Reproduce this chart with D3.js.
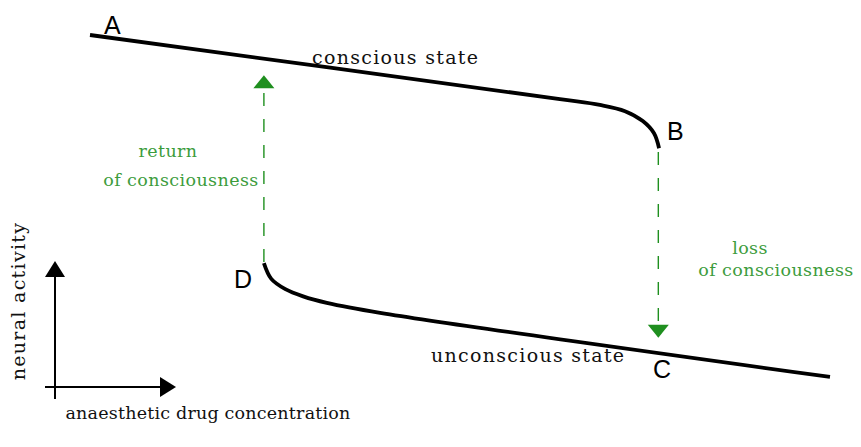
<!DOCTYPE html>
<html><head><meta charset="utf-8">
<script src="https://cdn.jsdelivr.net/npm/d3@7"></script>
<style>body{margin:0;background:#fff}svg{display:block}</style>
</head><body>
<svg id="c" width="861" height="447"></svg>
<script>
// Data (x: drug concentration 0-100, y: neural activity 0-100)
const consciousX = [0, 63.5, 68.9, 72.3, 74.7, 76.2, 76.9];
const consciousY = [100, 81.3, 79.6, 77.8, 74.9, 71.4, 67.0];
const unconsciousX = [23.5, 24.5, 26.4, 28.8, 32.0, 39.2, 100];
const unconsciousY = [33.5, 28.9, 25.9, 23.8, 21.9, 19.0, 0.3];
const returnArrow = {x: 23.5, from: 33.8, to: 88.3};
const lossArrow = {x: 76.8, from: 65.9, to: 11.7};
const pointLabels = ["A", "B", "C", "D"];
const stateLabels = ["conscious state", "unconscious state"];
const transitionLabels = [["return", "of consciousness"], ["loss", "of consciousness"]];
const axisLabels = ["anaesthetic drug concentration", "neural activity"];

const svg = d3.select("#c");
const x = d3.scaleLinear().domain([0, 100]).range([90, 830]);
const y = d3.scaleLinear().domain([0, 100]).range([378, 35]);
const serif = "'DejaVu Serif', serif";
const sans = "'Liberation Sans', Arial, sans-serif";
const green = "#1f8f1f", greenText = "#3c9c3c";

const line = d3.line().x(d => x(d[0])).y(d => y(d[1])).curve(d3.curveCatmullRom.alpha(0.5));
[d3.zip(consciousX, consciousY), d3.zip(unconsciousX, unconsciousY)].forEach(pts =>
  svg.append("path").datum(pts).attr("d", line)
    .attr("fill", "none").attr("stroke", "#000").attr("stroke-width", 3.8));

function dashedArrow(a, up) {
  const px = x(a.x), y0 = y(a.from), y1 = y(a.to);
  const headH = 13, headW = 10.5;
  const base = up ? y1 + headH : y1 - headH;
  svg.append("line").attr("x1", px).attr("x2", px).attr("y1", y0).attr("y2", base)
    .attr("stroke", green).attr("stroke-width", 1.4).attr("stroke-dasharray", "13,13");
  svg.append("path").attr("d", `M${px - headW},${base}L${px + headW},${base}L${px},${y1}Z`).attr("fill", green);
}
dashedArrow(returnArrow, true);
dashedArrow(lossArrow, false);

// point labels
const lp = [[104, 34], [667, 140], [653, 378], [234, 288]];
pointLabels.forEach((t, i) => svg.append("text").attr("x", lp[i][0]).attr("y", lp[i][1]).text(t)
  .attr("font-family", sans).attr("font-size", 25).attr("fill", "#000"));

// state labels
const sl = [[312, 64], [431, 362]];
stateLabels.forEach((t, i) => svg.append("text").attr("x", sl[i][0]).attr("y", sl[i][1]).text(t)
  .attr("font-family", serif).attr("font-size", 19).attr("letter-spacing", 1.3).attr("fill", "#111"));

// transition labels
const tl = [[[168, 157], [181, 186]], [[750, 254], [776, 276]]];
transitionLabels.forEach((pair, i) => pair.forEach((t, j) => svg.append("text")
  .attr("x", tl[i][j][0]).attr("y", tl[i][j][1]).attr("text-anchor", "middle").text(t)
  .attr("font-family", serif).attr("font-size", 17.5).attr("letter-spacing", 0.4).attr("fill", greenText)));

// axis arrows
const ax = svg.append("g").attr("fill", "#000").attr("stroke", "#000");
ax.append("line").attr("x1", 55).attr("x2", 55).attr("y1", 399).attr("y2", 275).attr("stroke-width", 2);
ax.append("path").attr("d", "M45,277L65,277L55,261Z").attr("stroke", "none");
ax.append("line").attr("x1", 45).attr("x2", 161).attr("y1", 387).attr("y2", 387).attr("stroke-width", 2);
ax.append("path").attr("d", "M160,377L160,397L176,387Z").attr("stroke", "none");

svg.append("text").attr("x", 208).attr("y", 419).attr("text-anchor", "middle").text(axisLabels[0])
  .attr("font-family", serif).attr("font-size", 17.5).attr("letter-spacing", 0.2).attr("fill", "#111");
svg.append("text").attr("transform", "translate(25,301) rotate(-90)").attr("text-anchor", "middle").text(axisLabels[1])
  .attr("font-family", serif).attr("font-size", 19).attr("letter-spacing", 1.3).attr("fill", "#111");
</script>
</body></html>
